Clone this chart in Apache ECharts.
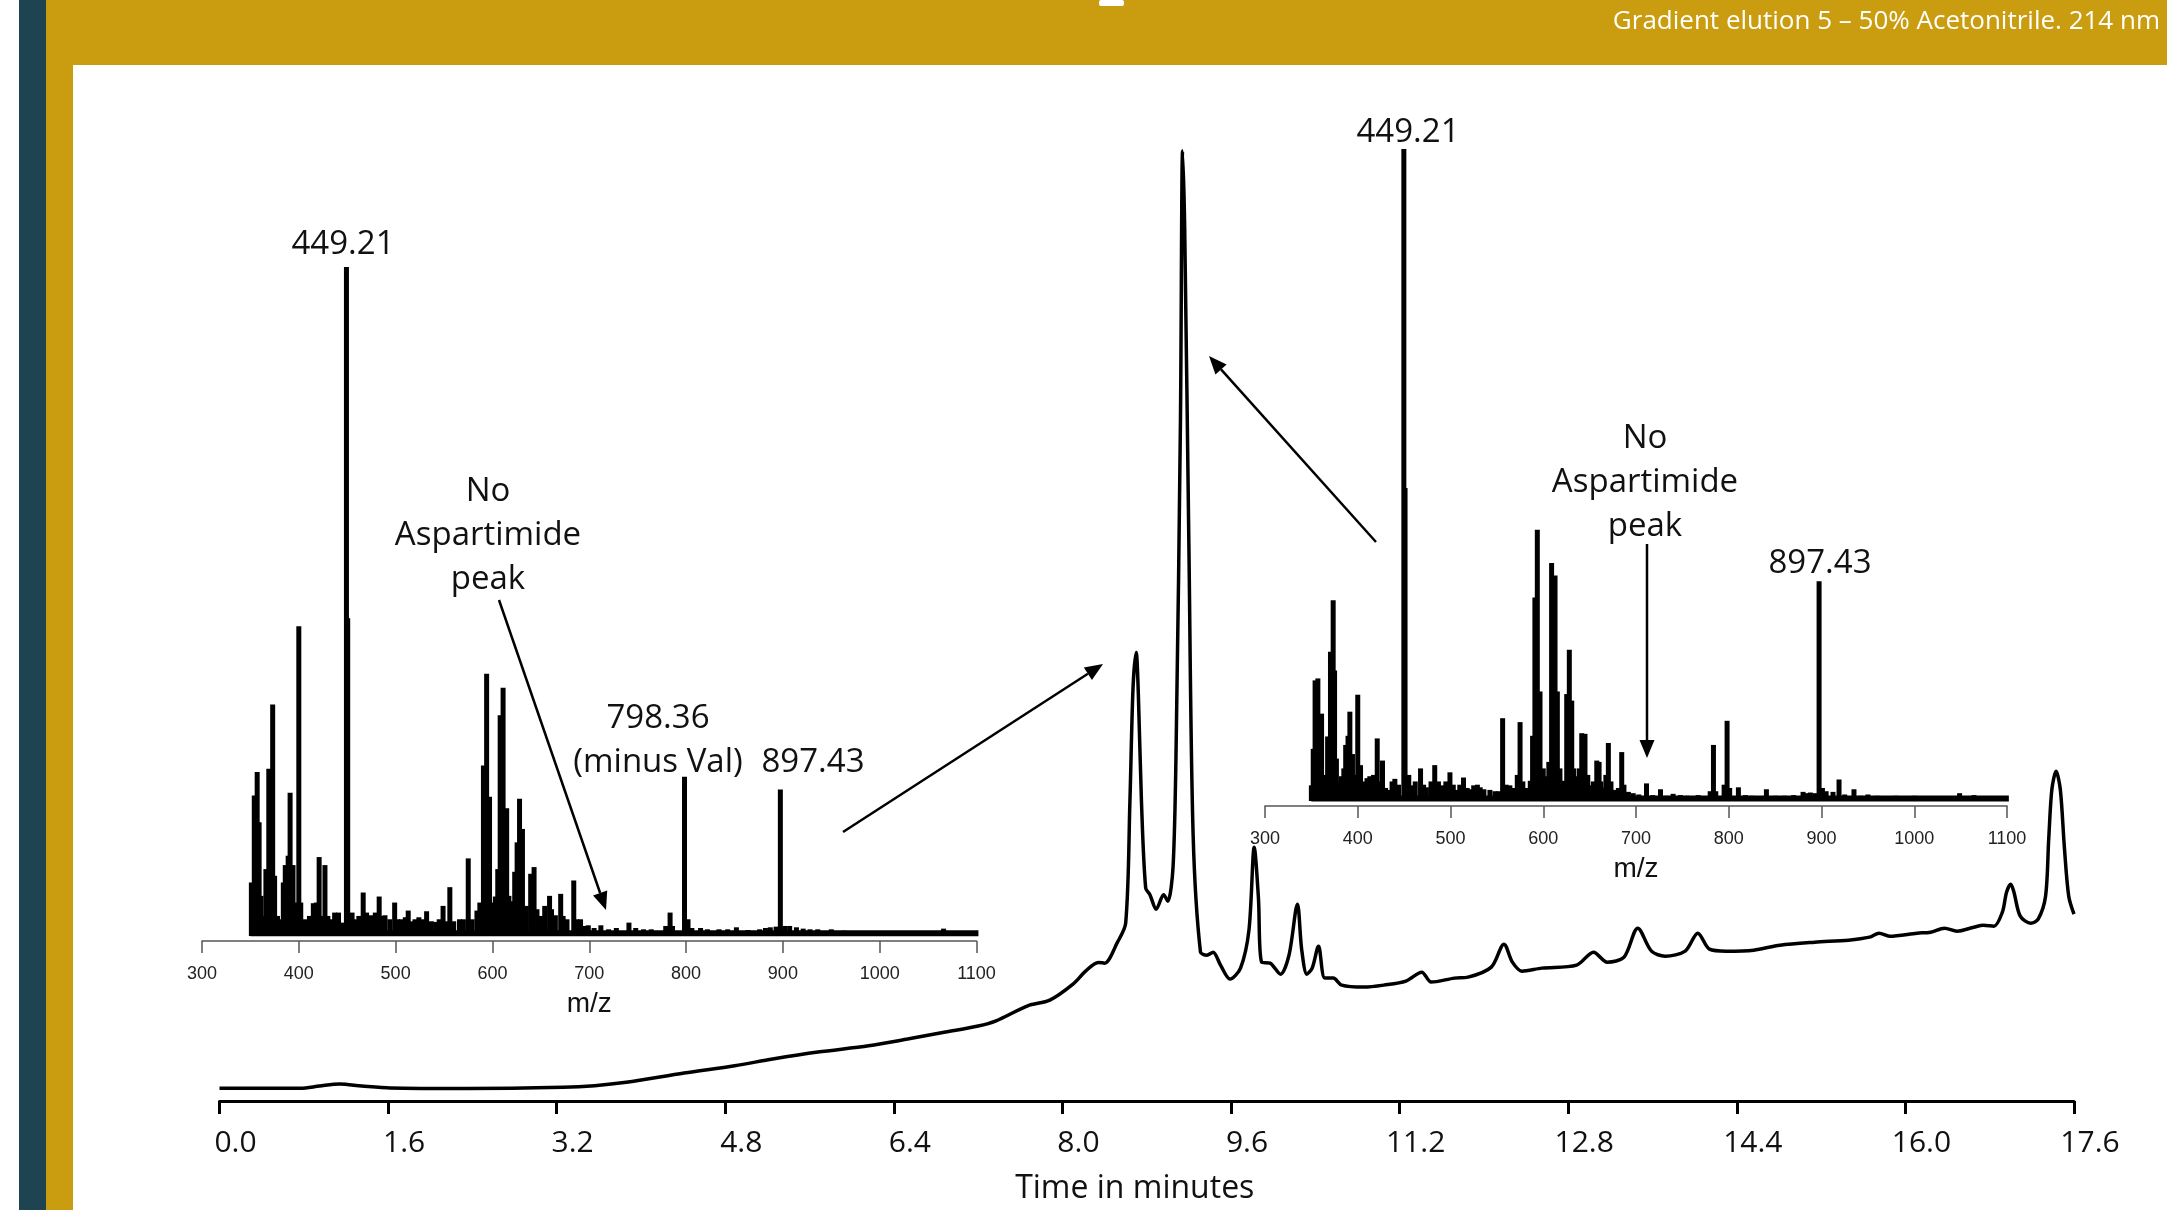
<!DOCTYPE html>
<html>
<head>
<meta charset="utf-8">
<title>HPLC 214 nm with MS insets</title>
<script src="https://cdn.jsdelivr.net/npm/echarts@6/dist/echarts.min.js"></script>
<style>
  html, body { margin: 0; padding: 0; background: #fff; }
  #chart { width: 2167px; height: 1210px; }
</style>
</head>
<body>
<div id="chart"></div>
<script>
// chromatogram at 214 nm (time in minutes, signal in arbitrary units)
var timeMin = [0.00, 0.77, 0.95, 1.14, 1.35, 1.62, 2.35, 3.26, 3.56, 3.86, 4.41, 4.89, 5.25, 5.68, 6.16, 6.53, 6.89, 7.20, 7.37, 7.67,
  7.88, 8.10, 8.22, 8.34, 8.40, 8.52, 8.60, 8.64, 8.67, 8.70, 8.72, 8.75, 8.79, 8.83, 8.89, 8.96, 9.00, 9.05, 9.08, 9.12,
  9.14, 9.16, 9.20, 9.24, 9.31, 9.37, 9.43, 9.50, 9.59, 9.69, 9.77, 9.82, 9.86, 9.89, 9.97, 10.07, 10.15, 10.23, 10.27, 10.32,
  10.37, 10.43, 10.49, 10.57, 10.65, 10.86, 11.05, 11.26, 11.41, 11.50, 11.72, 11.85, 12.07, 12.19, 12.27, 12.36, 12.55, 12.88, 13.04, 13.17,
  13.33, 13.46, 13.59, 13.72, 13.91, 14.03, 14.14, 14.30, 14.56, 14.81, 15.14, 15.46, 15.66, 15.75, 15.85, 16.11, 16.24, 16.37, 16.49, 16.65,
  16.74, 16.84, 16.92, 16.96, 17.00, 17.03, 17.09, 17.19, 17.26, 17.33, 17.36, 17.39, 17.43, 17.47, 17.51, 17.55, 17.60];
var signal = [1.27, 1.27, 1.5, 1.7, 1.5, 1.3, 1.25, 1.37, 1.53, 1.87, 2.8, 3.53, 4.2, 4.9, 5.53, 6.2, 6.9, 7.5, 8.03, 9.53,
  10.1, 11.7, 13.0, 13.87, 13.8, 15.85, 17.8, 29.9, 41.4, 44.9, 40.8, 29.9, 21.3, 20.65, 19.2, 20.65, 20.0, 23.5, 36.3, 68.25,
  95.1, 87.4, 55.5, 26.7, 14.9, 14.6, 14.9, 13.6, 12.2, 13.3, 17.1, 25.4, 20.3, 13.9, 13.8, 12.7, 14.6, 19.7, 15.2, 12.7,
  13.3, 15.5, 12.3, 12.3, 11.6, 11.4, 11.6, 12.0, 12.9, 11.9, 12.3, 12.4, 13.4, 15.7, 13.9, 13.0, 13.3, 13.6, 14.9, 13.9,
  14.4, 17.3, 15.0, 14.5, 15.0, 16.8, 15.2, 15.0, 15.1, 15.6, 15.9, 16.1, 16.4, 16.8, 16.5, 16.8, 16.9, 17.3, 17.0, 17.4,
  17.6, 17.5, 18.9, 20.9, 21.7, 20.9, 18.5, 17.8, 18.2, 20.5, 26.2, 31.2, 33.0, 31.2, 25.2, 20.5, 18.7];

// mass spectrum of the first peak (relative intensity %)
var leftMz = [351, 354, 357, 359, 361, 364, 366, 369, 373, 375, 378, 381, 384, 386, 389, 391, 394, 396, 400, 402,
  406, 411, 415, 418, 421, 424, 427, 430, 434, 437, 441, 445, 449.2, 450.5, 452, 455, 458, 462, 466.5, 470,
  475, 479, 483, 486, 489, 494, 499, 502, 506, 510, 513, 517, 520, 524, 528, 532, 537, 542, 545, 549,
  552, 556, 560, 566, 570, 575, 579, 584, 587, 590.7, 594, 597, 600, 603, 605.5, 608, 611, 614.7, 617, 620,
  623, 625.5, 628, 631, 635, 639.5, 643, 646, 650, 654, 659, 661, 665, 670.5, 673, 677, 684, 687, 691, 695,
  699, 705, 712, 720, 728, 741, 748, 756, 764, 779, 783.5, 786, 798.4, 802, 806, 815, 822, 834, 843, 852,
  864, 876, 882, 887, 893, 897.4, 902, 907, 914, 921, 928, 936, 950, 963, 1000, 1030, 1066];
var leftInt = [8, 21, 24.5, 17, 6, 3, 10, 25, 34.6, 9, 3, 2.5, 8, 10.6, 12, 21.4, 10.6, 5, 46.3, 5,
  2.5, 3, 4.9, 5, 11.8, 3, 10.6, 3, 2.5, 3.5, 3.5, 2, 100, 47.5, 3, 3.5, 2.5, 3, 6.5, 3.5,
  3.1, 3.5, 5.9, 3, 3.1, 2.5, 5.0, 2.5, 2.5, 2.8, 3.8, 2.2, 2.5, 2.8, 2.5, 3.7, 2.2, 2.1, 2.5, 4.5,
  2.2, 7.3, 2.2, 2.5, 2.5, 11.6, 2.5, 3.8, 5, 25.5, 39.2, 20.8, 5, 5.9, 10, 33, 37.1, 19.1, 6, 5.2,
  9.6, 14, 20.5, 16, 4.5, 9.3, 10.3, 4, 3, 4.5, 6, 4, 3.1, 6.3, 3, 2.5, 8.3, 2.5, 2.5, 1.5,
  1.6, 1.2, 1.6, 1.0, 1.2, 2.0, 1.2, 1.0, 1.0, 1.5, 3.5, 1.5, 23.8, 2.5, 1.2, 1.2, 1.0, 1.0, 1.0, 1.3,
  0.9, 1.0, 1.2, 1.3, 1.4, 21.9, 1.5, 1.5, 1.3, 1.1, 1.0, 1.0, 1.0, 0.8, 0.7, 0.7, 1.1];

// mass spectrum of the main peak (relative intensity %)
var rightMz = [350, 352, 354, 357, 361, 363.5, 365, 367.5, 370.6, 373.5, 375, 377, 380, 382.5, 385, 387, 389.5, 391.5, 394.3, 397,
  400, 403, 406, 410, 413, 417, 421, 424, 426.7, 430, 433, 437, 440, 444, 449.7, 451, 455, 458, 462, 467.7,
  471, 474, 479, 483, 487, 490.4, 495, 499.4, 503, 506.6, 510, 514, 518, 521, 525, 529, 532, 536, 542.5, 548,
  552, 556.2, 560, 564, 568, 572, 575, 578, 582, 586, 588.5, 591, 593.6, 596.5, 600, 603.7, 606, 609, 612.7, 615.2,
  618, 621.7, 625.3, 628.1, 630.7, 633, 636, 639, 641.5, 645, 648, 650.5, 654, 657.7, 660.2, 662, 664.9, 667.5, 670.2, 673,
  677.4, 681, 684.6, 687, 691.8, 697, 703, 711.3, 718, 726.4, 733, 740, 748, 755, 767, 780, 783.5, 786, 795, 798.2,
  801, 810.4, 818, 825, 840.6, 850, 860, 870, 880.1, 885, 888, 893, 897.4, 901, 905, 912.4, 918.9, 925, 935, 942,
  950, 960, 980, 1000, 1048.9, 1064.4];
var rightInt = [2.4, 8, 18.5, 18.8, 13.4, 2.4, 4, 9.9, 22.9, 30.8, 20, 6.5, 3, 3.8, 5, 8.6, 10, 13.7, 7.2, 4,
  16.3, 5.5, 3, 3.5, 3.8, 4, 9.6, 3, 6.2, 2, 1.7, 3, 3.4, 2.5, 100, 48, 4, 2.4, 3, 5.0,
  2.5, 2.1, 3, 5.5, 3, 2.4, 3, 4.4, 2.5, 1.7, 2.5, 3.6, 2, 1.8, 2.4, 2.5, 2.1, 1.8, 1.7, 1.5,
  1.5, 12.7, 2.5, 2.4, 2, 4, 12.1, 3, 2, 3.1, 10, 31.2, 41.6, 16.8, 5, 3.8, 6, 36.5, 34.6, 16.8,
  5, 3.1, 16.4, 23.2, 15.4, 5, 3.8, 5, 10.4, 10.3, 4, 2.4, 3, 6.2, 6, 3, 2.1, 4, 8.9, 3,
  1.7, 2, 7.5, 2.5, 1.4, 1.2, 1.0, 2.7, 0.9, 1.8, 0.8, 1.1, 0.9, 0.8, 0.9, 1.5, 8.6, 1.5, 2.5, 12.3,
  2, 2.1, 0.9, 0.8, 1.8, 0.8, 0.8, 0.9, 1.4, 1.2, 1.3, 1.2, 33.7, 2, 1.5, 1.4, 3.3, 1.0, 1.8, 0.8,
  1.0, 0.8, 0.8, 0.8, 1.2, 0.9];

var msRange = [350, 1102];   // m/z span of the recorded spectrum baseline

function zip(a, b) {
  var out = [];
  for (var i = 0; i < a.length; i++) out.push([a[i], b[i]]);
  return out;
}

// line with a filled head, for the callouts
function arrow(x1, y1, x2, y2) {
  var dx = x2 - x1, dy = y2 - y1;
  var len = Math.sqrt(dx * dx + dy * dy);
  var ux = dx / len, uy = dy / len;
  var hl = 18, hw = 7.5;
  var bx = x2 - ux * hl, by = y2 - uy * hl;
  return [
    { type: 'line', shape: { x1: x1, y1: y1, x2: bx, y2: by }, style: { stroke: '#000', lineWidth: 2.5 } },
    { type: 'polygon', shape: { points: [[x2, y2], [bx - uy * hw, by + ux * hw], [bx + uy * hw, by - ux * hw]] }, style: { fill: '#000' } }
  ];
}

function note(x, y, text, extra) {
  var st = { text: text, x: x, y: y, fill: '#111', font: '33px "Open Sans"', align: 'center', verticalAlign: 'middle' };
  if (extra) for (var k in extra) st[k] = extra[k];
  return { type: 'text', z: 10, style: st };
}

function msAxis(grid) {
  return {
    gridIndex: grid, type: 'value', min: 300, max: 1100, interval: 100, offset: 5,
    axisLine: { onZero: false, lineStyle: { color: '#555', width: 1.5 } },
    axisTick: { length: 12, lineStyle: { color: '#555', width: 1.5 } },
    axisLabel: {
      fontFamily: 'Liberation Sans', fontSize: 18, color: '#222', margin: 24,
      formatter: function (v) { return String(v); }
    },
    splitLine: { show: false },
    name: 'm/z', nameLocation: 'middle', nameGap: 49,
    nameTextStyle: { fontFamily: 'Liberation Sans', fontSize: 28, color: '#111' }
  };
}

var graphics = [
  { type: 'rect', shape: { x: 19, y: 0, width: 27, height: 1210 }, style: { fill: '#1F4451' } },
  { type: 'rect', shape: { x: 46, y: 0, width: 27, height: 1210 }, style: { fill: '#C99D0F' } },
  { type: 'rect', shape: { x: 46, y: 0, width: 2121, height: 65 }, style: { fill: '#C99D0F' } },
  { type: 'rect', shape: { x: 1099, y: 0, width: 25, height: 6, r: 2 }, style: { fill: '#fff' } },
  { type: 'text', style: { text: 'Gradient elution 5 – 50% Acetonitrile. 214 nm', x: 2160, y: 22, fill: '#fff',
      font: '26px "Open Sans"', align: 'right', verticalAlign: 'middle' } },
  note(343, 245, '449.21'),
  note(488, 536, 'No\nAspartimide\npeak', { lineHeight: 44 }),
  note(658, 719, '798.36'),
  note(658, 763, '(minus Val)'),
  note(813, 763, '897.43'),
  note(1408, 133, '449.21'),
  note(1645, 483, 'No\nAspartimide\npeak', { lineHeight: 44 }),
  note(1820, 564, '897.43')
];
graphics = graphics
  .concat(arrow(499, 600, 606, 910))
  .concat(arrow(843, 832, 1103, 664))
  .concat(arrow(1376, 542, 1209, 356))
  .concat(arrow(1647, 544, 1647, 758));

var chart = echarts.init(document.getElementById('chart'));
var option = {
  backgroundColor: '#fff',
  animation: false,
  grid: [
    { left: 219.5, right: 93, top: 102, bottom: 108 },
    { left: 202, right: 1190.5, top: 267, bottom: 274 },
    { left: 1265, right: 160, top: 149, bottom: 409 }
  ],
  xAxis: [
    {
      gridIndex: 0, type: 'value', min: 0, max: 17.6, interval: 1.6,
      axisLine: { onZero: false, lineStyle: { color: '#000', width: 3 } },
      axisTick: { length: 13, lineStyle: { color: '#000', width: 3 } },
      axisLabel: {
        fontFamily: 'Open Sans', fontSize: 30, color: '#111', margin: 27, padding: [0, 0, 0, 32],
        showMinLabel: true, showMaxLabel: true,
        formatter: function (v) { return v.toFixed(1); }
      },
      splitLine: { show: false },
      name: 'Time in minutes', nameLocation: 'middle', nameGap: 72,
      nameTextStyle: { fontFamily: 'Open Sans', fontSize: 32, color: '#111', padding: [0, 24, 0, 0] }
    },
    msAxis(1),
    msAxis(2)
  ],
  yAxis: [
    { gridIndex: 0, type: 'value', min: 0, max: 100, show: false },
    { gridIndex: 1, type: 'value', min: 0, max: 100, show: false },
    { gridIndex: 2, type: 'value', min: 0, max: 100, show: false }
  ],
  series: [
    {
      name: 'UV 214 nm', type: 'line', xAxisIndex: 0, yAxisIndex: 0,
      data: zip(timeMin, signal), showSymbol: false, smooth: 0.3,
      lineStyle: { color: '#000', width: 3.5 }
    },
    {
      name: 'MS peak 1', type: 'bar', xAxisIndex: 1, yAxisIndex: 1,
      data: zip(leftMz, leftInt), barWidth: 5, itemStyle: { color: '#000' }
    },
    {
      name: 'MS peak 1 base', type: 'line', xAxisIndex: 1, yAxisIndex: 1,
      data: zip(msRange, [0.4, 0.4]), showSymbol: false,
      lineStyle: { color: '#000', width: 6 }
    },
    {
      name: 'MS main peak', type: 'bar', xAxisIndex: 2, yAxisIndex: 2,
      data: zip(rightMz, rightInt), barWidth: 5, itemStyle: { color: '#000' }
    },
    {
      name: 'MS main peak base', type: 'line', xAxisIndex: 2, yAxisIndex: 2,
      data: zip(msRange, [0.4, 0.4]), showSymbol: false,
      lineStyle: { color: '#000', width: 6 }
    }
  ],
  graphic: graphics
};
chart.setOption(option);
</script>
</body>
</html>
